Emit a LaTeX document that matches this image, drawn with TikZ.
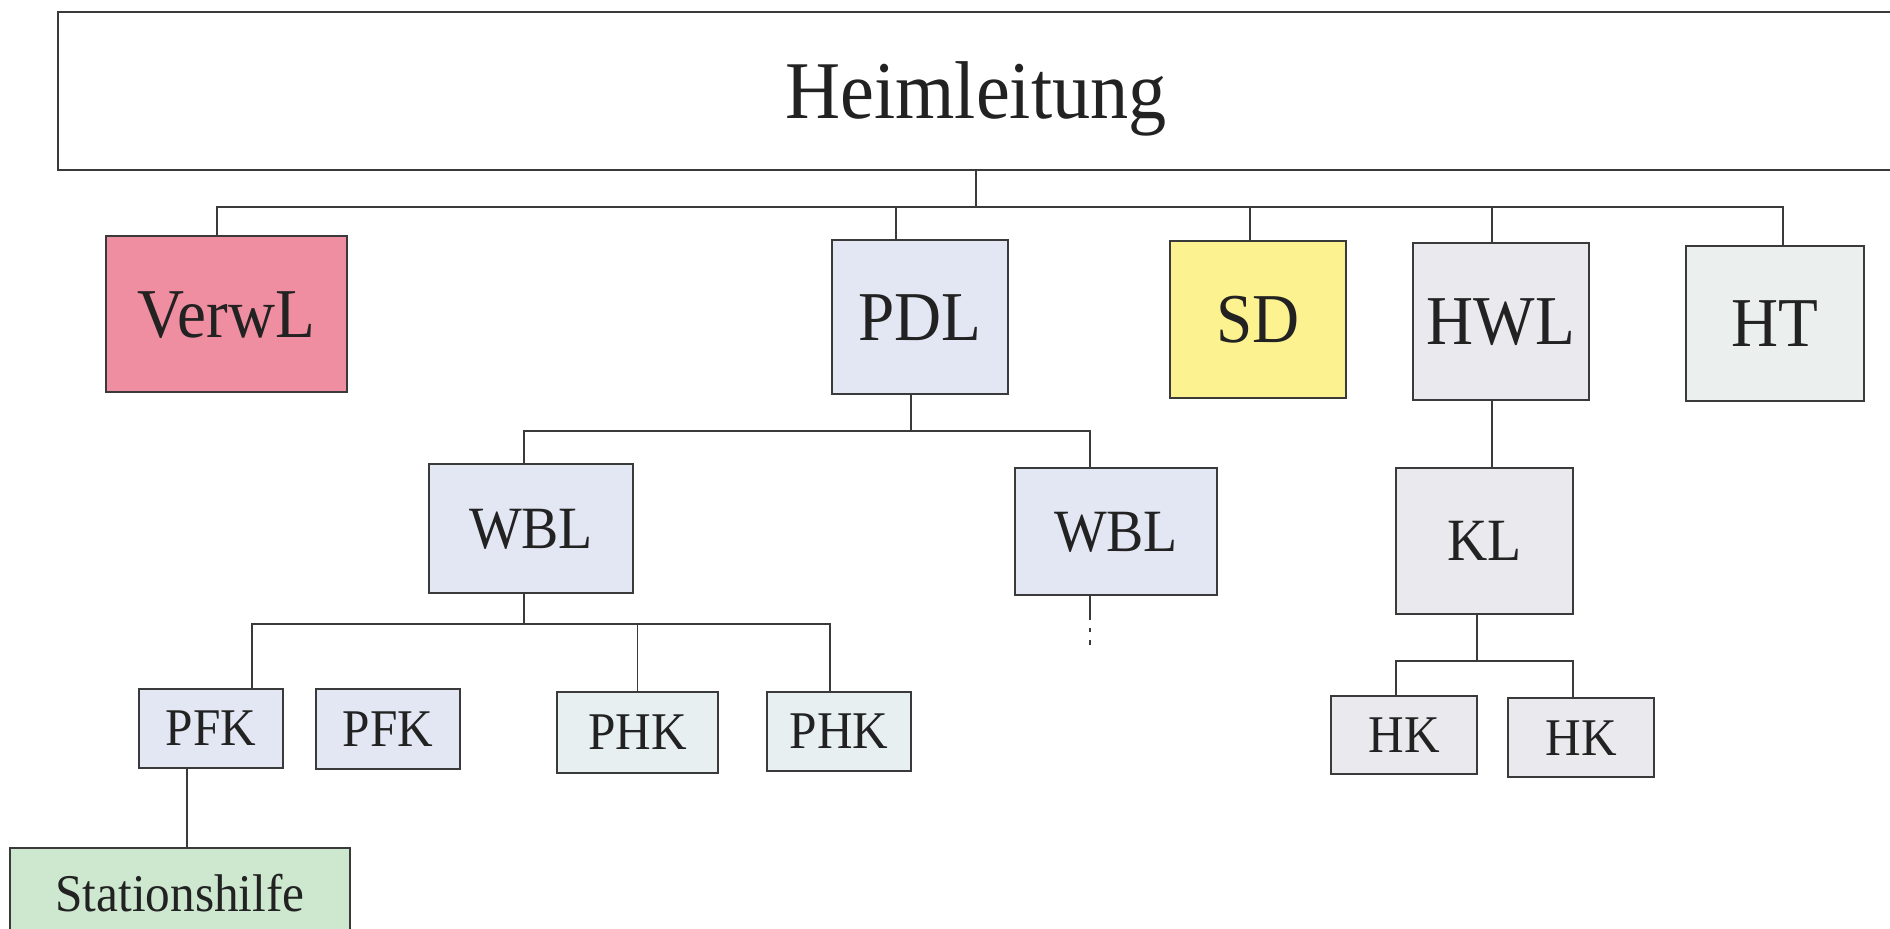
\documentclass[tikz,border=0pt]{standalone}
\usepackage{fontspec}
\setmainfont{Liberation Serif}[FakeStretch=0.93]
\definecolor{edge}{HTML}{3A3A3A}
\definecolor{ink}{HTML}{222222}
\definecolor{verwfill}{HTML}{EF8EA0}
\definecolor{pflegefill}{HTML}{E3E6F3}
\definecolor{sdfill}{HTML}{FCF290}
\definecolor{hwfill}{HTML}{EAEAEE}
\definecolor{htfill}{HTML}{EBF0EE}
\definecolor{phkfill}{HTML}{E7EFF1}
\definecolor{stfill}{HTML}{CDE8CF}
\tikzset{
  orgbox/.style={draw=edge, line width=1.25pt, inner sep=0pt, text=ink, text depth=0pt},
  wire/.style={draw=edge, line width=0.9pt},
  stub/.style={draw=edge, line width=0.9pt, dash pattern=on 12pt off 4pt on 2pt off 4pt on 12pt off 4pt},
  fsA/.style={font=\fontsize{41}{44}\selectfont, text height=27.1pt},
  fsB/.style={font=\fontsize{35}{38}\selectfont, text height=23.2pt},
  fsC/.style={font=\fontsize{30}{32}\selectfont, text height=19.9pt},
  fsD/.style={font=\fontsize{26.5}{28}\selectfont, text height=17.5pt},
}
\begin{document}
\begin{tikzpicture}[x=0.5pt, y=-0.5pt]
\useasboundingbox (0,0) rectangle (1890,929);
\clip (0,0) rectangle (1890,929);
\fill[white] (0,0) rectangle (1890,929);

% top management
\node[orgbox, fill=white, fsA, minimum width=918pt, minimum height=79pt] (heim) at (976,91) {Heimleitung};

% first level
\node[orgbox, fill=verwfill, fsB, minimum width=120.5pt, minimum height=78pt] (verwl) at (226.5,314) {VerwL};
\node[orgbox, fill=pflegefill, fsB, minimum width=88pt, minimum height=77pt] (pdl) at (920,317) {PDL};
\node[orgbox, fill=sdfill, fsB, minimum width=88pt, minimum height=78.5pt] (sd) at (1258,319.5) {SD};
\node[orgbox, fill=hwfill, fsB, minimum width=88pt, minimum height=78.5pt] (hwl) at (1501,321.5) {HWL};
\node[orgbox, fill=htfill, fsB, minimum width=89pt, minimum height=77.5pt] (ht) at (1775,323.5) {HT};

% second level
\node[orgbox, fill=pflegefill, fsC, minimum width=102pt, minimum height=64.5pt] (wbla) at (531,528.5) {WBL};
\node[orgbox, fill=pflegefill, fsC, minimum width=101pt, minimum height=63.5pt] (wblb) at (1116,531.5) {WBL};
\node[orgbox, fill=hwfill, fsC, minimum width=88.5pt, minimum height=73pt] (kl) at (1484.5,541) {KL};

% third level
\node[orgbox, fill=pflegefill, fsD, minimum width=72pt, minimum height=39.5pt] (pfka) at (211,728.5) {PFK};
\node[orgbox, fill=pflegefill, fsD, minimum width=72pt, minimum height=40pt] (pfkb) at (388,729) {PFK};
\node[orgbox, fill=phkfill, fsD, minimum width=80.5pt, minimum height=40.5pt] (phka) at (637.5,732.5) {PHK};
\node[orgbox, fill=phkfill, fsD, minimum width=72pt, minimum height=39.5pt] (phkb) at (839,731.5) {PHK};
\node[orgbox, fill=hwfill, fsD, minimum width=73pt, minimum height=39pt] (hka) at (1404,735) {HK};
\node[orgbox, fill=hwfill, fsD, minimum width=73pt, minimum height=39.5pt] (hkb) at (1581,737.5) {HK};

% fourth level
\node[orgbox, fill=stfill, fsD, minimum width=170pt, minimum height=46pt] (stat) at (180,894) {Stationshilfe};

% bus lines
\coordinate (busa) at (976,207);
\coordinate (busb) at (911,431);
\coordinate (busc) at (524,624);
\coordinate (busd) at (1477,661);
\coordinate (stubend) at (1090,645);

% Heimleitung -> first level
\draw[wire] (heim.south) -- (busa);
\draw[wire] ([xshift=-4.75pt]verwl.north) |- (busa) -| ([xshift=4pt]ht.north);
\draw[wire] ([xshift=-12pt]pdl.north) -- ([xshift=-12pt]pdl.north |- busa);
\draw[wire] ([xshift=-4pt]sd.north) -- ([xshift=-4pt]sd.north |- busa);
\draw[wire] ([xshift=-4.5pt]hwl.north) -- ([xshift=-4.5pt]hwl.north |- busa);

% PDL -> WBL
\draw[wire] ([xshift=-4.5pt]pdl.south) -- (busb);
\draw[wire] ([xshift=-3.5pt]wbla.north) |- (busb) -| ([xshift=-13pt]wblb.north);
\draw[stub] ([xshift=-13pt]wblb.south) -- (stubend);

% WBL -> PFK / PHK
\draw[wire] ([xshift=-3.5pt]wbla.south) -- (busc);
\draw[wire] ([xshift=20.5pt]pfka.north) |- (busc) -| ([xshift=-4.5pt]phkb.north);
\draw[wire] (phka.north) -- (phka.north |- busc);

% PFK -> Stationshilfe
\draw[wire] ([xshift=-12pt]pfka.south) -- ([xshift=-12pt]pfka.south |- stat.north);

% HWL -> KL -> HK
\draw[wire] ([xshift=-4.5pt]hwl.south) -- ([xshift=-4.5pt]hwl.south |- kl.north);
\draw[wire] ([xshift=-3.75pt]kl.south) -- (busd);
\draw[wire] ([xshift=-4pt]hka.north) |- (busd) -| ([xshift=-4pt]hkb.north);
\end{tikzpicture}
\end{document}
